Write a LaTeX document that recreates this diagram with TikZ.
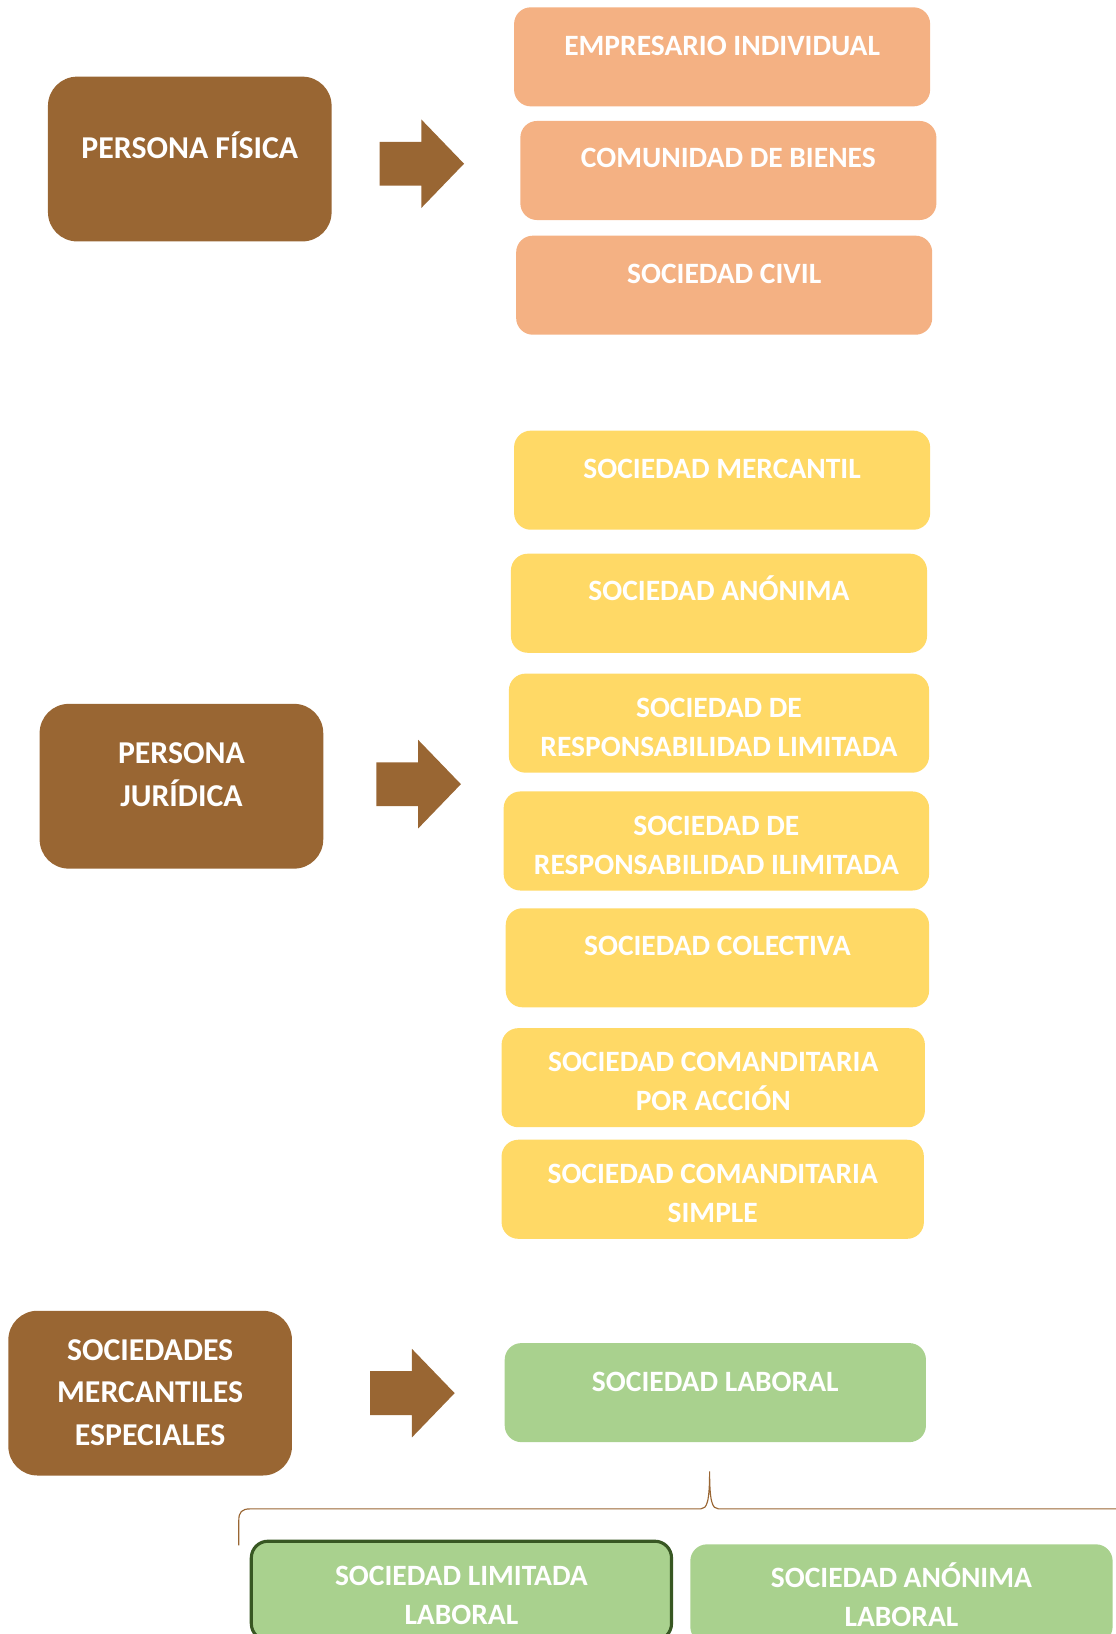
\documentclass[tikz,border=0pt]{standalone}
\usepackage{fontspec}
\setmainfont{Carlito}
\definecolor{cafe}{HTML}{996633}
\definecolor{naranja}{HTML}{F4B183}
\definecolor{amarillo}{HTML}{FFD966}
\definecolor{verde}{HTML}{A9D18E}
\definecolor{verdeosc}{HTML}{385723}
\tikzset{
  formabox/.style={rectangle, rounded corners=16, minimum width=399, minimum height=95, inner sep=0},
  orangebox/.style={formabox, fill=naranja},
  yellowbox/.style={formabox, fill=amarillo},
  greenbox/.style={formabox, fill=verde},
  brownbox/.style={rectangle, rounded corners=28, fill=cafe, minimum width=272, minimum height=158, inner sep=0},
  boxtext/.style={text=white, align=center, inner sep=0, font=\fontsize{28.3}{37}\selectfont\bfseries},
  browntext/.style={text=white, align=center, inner sep=0, font=\fontsize{30.5}{40.5}\selectfont\bfseries},
  oneline/.style={text height=18.2, text depth=0},
  fatarrow/.pic={\fill[cafe] (0,-21) -- (40,-21) -- (40,-42.5) -- (81,0) -- (40,42.5) -- (40,21) -- (0,21) -- cycle;}
}
\begin{document}
\begin{tikzpicture}[x=1pt, y=-1pt]
  \clip (0,0) rectangle (1070,1567);

  % Persona fisica
  \node[brownbox] (fisica) at (182,152.5) {};
  \node[browntext, text height=19.6, text depth=0] (fisica-t) at (182,142) {PERSONA FÍSICA};
  \pic at (364,157) {fatarrow};

  \node[orangebox] (empresario) at (692.5,54.5) {};
  \node[boxtext, oneline] (empresario-t) at (692.5,44) {EMPRESARIO INDIVIDUAL};
  \node[orangebox] (comunidad) at (698.5,163.5) {};
  \node[boxtext, oneline] (comunidad-t) at (698.5,152) {COMUNIDAD DE BIENES};
  \node[orangebox] (civil) at (694.5,273.5) {};
  \node[boxtext, oneline] (civil-t) at (694.5,263) {SOCIEDAD CIVIL};

  % Persona juridica
  \node[brownbox] (juridica) at (174,754) {};
  \node[browntext] (juridica-t) at (174,743) {PERSONA\\JURÍDICA};
  \pic at (361,752) {fatarrow};

  \node[yellowbox] (mercantil) at (692.5,460.5) {};
  \node[boxtext, oneline] (mercantil-t) at (692.5,450) {SOCIEDAD MERCANTIL};
  \node[yellowbox] (anonima) at (689.5,578.5) {};
  \node[boxtext, oneline] (anonima-t) at (689.5,567) {SOCIEDAD ANÓNIMA};
  \node[yellowbox, minimum width=403] (limitada) at (689.5,693.5) {};
  \node[boxtext] (limitada-t) at (689.5,697.5) {SOCIEDAD DE\\RESPONSABILIDAD LIMITADA};
  \node[yellowbox, minimum width=408] (ilimitada) at (687,806.5) {};
  \node[boxtext] (ilimitada-t) at (687,810.5) {SOCIEDAD DE\\RESPONSABILIDAD ILIMITADA};
  \node[yellowbox, minimum width=406] (colectiva) at (688,918.5) {};
  \node[boxtext, oneline] (colectiva-t) at (688,907) {SOCIEDAD COLECTIVA};
  \node[yellowbox, minimum width=406] (accion) at (684,1033.5) {};
  \node[boxtext] (accion-t) at (684,1037) {SOCIEDAD COMANDITARIA\\POR ACCIÓN};
  \node[yellowbox, minimum width=405] (simple) at (683.5,1140.5) {};
  \node[boxtext] (simple-t) at (683.5,1144.5) {SOCIEDAD COMANDITARIA\\SIMPLE};

  % Sociedades mercantiles especiales
  \node[brownbox] (especiales) at (144,1336) {};
  \node[browntext] (especiales-t) at (144,1335.5) {SOCIEDADES\\MERCANTILES\\ESPECIALES};
  \pic at (355,1336) {fatarrow};

  \node[greenbox, minimum width=404] (laboral) at (686,1335.5) {};
  \node[boxtext, oneline] (laboral-t) at (686,1325) {SOCIEDAD LABORAL};

  % Llave
  \coordinate (punta) at (680.5,1411);
  \draw[cafe, line width=1.1] (229,1482) -- (229,1458) .. controls (229,1450) and (232,1447) .. (240,1447)
    -- (672,1447) .. controls (678,1447) and (680.5,1440) .. (punta)
    .. controls (680.5,1440) and (683,1447) .. (689,1447) -- (1080,1447);

  \node[greenbox, minimum width=403, draw=verdeosc, line width=3] (sll) at (442.5,1525.5) {};
  \node[boxtext] (sll-t) at (442.5,1530) {SOCIEDAD LIMITADA\\LABORAL};
  \node[greenbox, minimum width=405] (sal) at (864.5,1528.5) {};
  \node[boxtext] (sal-t) at (864.5,1529.5) {SOCIEDAD ANÓNIMA\\LABORAL};
\end{tikzpicture}
\end{document}
